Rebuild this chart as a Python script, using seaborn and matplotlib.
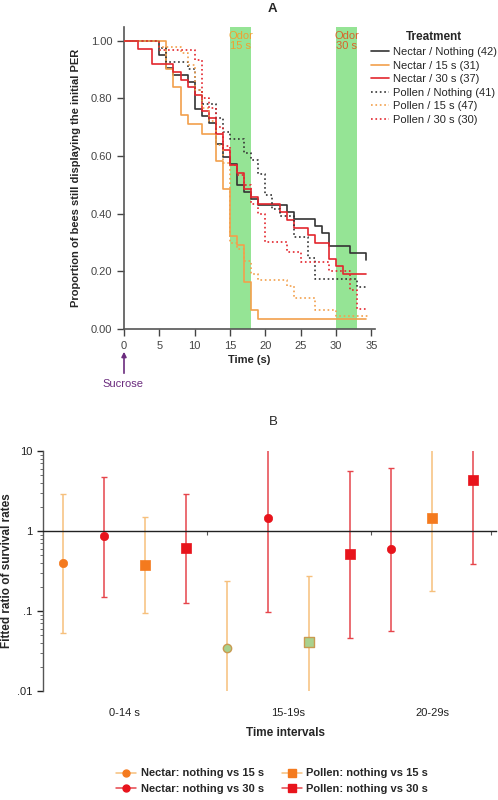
import numpy as np
import pandas as pd
import matplotlib
matplotlib.use('Agg')
import matplotlib.pyplot as plt
from matplotlib.lines import Line2D
from matplotlib.ticker import FixedLocator, FixedFormatter, LogLocator, NullFormatter
import seaborn as sns

# ---- Panel A: proportion of bees still showing the PER over time (step curves)
nectar_nothing_t = [0, 5, 6, 7, 9, 10, 11, 12, 13, 14, 15, 16, 17, 18, 19, 23, 24, 27, 28, 29, 32, 34.2]
nectar_nothing_p = [1.0, 0.952, 0.905, 0.881, 0.857, 0.762, 0.738, 0.714, 0.643, 0.595, 0.571, 0.500,
                    0.476, 0.452, 0.429, 0.405, 0.381, 0.357, 0.333, 0.286, 0.262, 0.238]

nectar_15_t = [0, 6, 7, 8, 9, 11, 13, 14, 15, 16, 17, 18, 19, 34.2]
nectar_15_p = [1.0, 0.903, 0.839, 0.742, 0.710, 0.677, 0.581, 0.484, 0.323, 0.290, 0.161, 0.065, 0.032, 0.032]

nectar_30_t = [0, 2, 4, 7, 8, 9, 10, 11, 12, 13, 14, 15, 16, 17, 18, 19, 22, 23, 24, 26, 27, 29, 30, 31, 34.2]
nectar_30_p = [1.0, 0.973, 0.919, 0.892, 0.865, 0.838, 0.811, 0.757, 0.730, 0.676, 0.622, 0.568, 0.541,
               0.486, 0.459, 0.432, 0.405, 0.378, 0.351, 0.324, 0.297, 0.243, 0.216, 0.189, 0.189]

pollen_nothing_t = [0, 5, 6, 9, 10, 11, 13, 14, 15, 17, 18, 19, 20, 21, 22, 24, 26, 27, 33, 34.3]
pollen_nothing_p = [1.0, 0.976, 0.927, 0.902, 0.829, 0.780, 0.732, 0.683, 0.659, 0.610, 0.585, 0.537,
                    0.463, 0.415, 0.390, 0.317, 0.244, 0.171, 0.146, 0.146]

pollen_15_t = [0, 5, 8, 9, 10, 11, 12, 13, 14, 15, 16, 17, 18, 19, 23, 24, 27, 30, 34.5]
pollen_15_p = [1.0, 0.979, 0.957, 0.915, 0.830, 0.766, 0.723, 0.638, 0.574, 0.298, 0.277, 0.234, 0.191,
               0.170, 0.149, 0.106, 0.064, 0.043, 0.043]

pollen_30_t = [0, 5, 10, 11, 12, 13, 14, 15, 16, 17, 18, 19, 20, 23, 25, 29, 32, 33, 34.3]
pollen_30_p = [1.0, 0.967, 0.933, 0.800, 0.767, 0.700, 0.633, 0.567, 0.533, 0.500, 0.433, 0.400, 0.300,
               0.267, 0.233, 0.200, 0.133, 0.067, 0.067]

treatments = ['Nectar / Nothing (42)', 'Nectar / 15 s (31)', 'Nectar / 30 s (37)',
              'Pollen / Nothing (41)', 'Pollen / 15 s (47)', 'Pollen / 30 s (30)']
curve_t = [nectar_nothing_t, nectar_15_t, nectar_30_t, pollen_nothing_t, pollen_15_t, pollen_30_t]
curve_p = [nectar_nothing_p, nectar_15_p, nectar_30_p, pollen_nothing_p, pollen_15_p, pollen_30_p]

# ---- Panel B: fitted ratio of survival rates with confidence intervals
intervals = ['0-14 s', '15-19s', '20-29s']
comparisons = ['Nectar: nothing vs 15 s', 'Nectar: nothing vs 30 s',
               'Pollen: nothing vs 15 s', 'Pollen: nothing vs 30 s']
ratio_n15 = [0.40, 0.034, np.nan]
ratio_n30 = [0.87, 1.45, 0.60]
ratio_p15 = [0.38, 0.041, 1.45]
ratio_p30 = [0.62, 0.52, 4.4]
low_n15 = [0.053, 0.006, np.nan]
low_n30 = [0.15, 0.097, 0.056]
low_p15 = [0.095, 0.006, 0.18]
low_p30 = [0.126, 0.046, 0.39]
high_n15 = [2.9, 0.24, np.nan]
high_n30 = [4.7, 15.0, 6.1]
high_p15 = [1.5, 0.27, 14.0]
high_p30 = [2.9, 5.6, 15.0]
highlight_n15 = [False, True, False]
highlight_n30 = [False, False, False]
highlight_p15 = [False, True, False]
highlight_p30 = [False, False, False]

sns.set_style('ticks')
plt.rcParams['font.family'] = ['Liberation Sans', 'DejaVu Sans']

fig = plt.figure(figsize=(4.98, 8.0), dpi=100)
W, H = 498.0, 800.0

# ================= Panel A =================
axA = fig.add_axes([124 / W, 1 - 328.7 / H, 251 / W, 301.5 / H])
colorsA = ['#333333', '#F2A04C', '#E3262E', '#333333', '#F2A04C', '#E3262E']
stylesA = ['-', '-', '-', ':', ':', ':']

axA.axvspan(15, 18, color='#95E495', lw=0, zorder=0)
axA.axvspan(30, 33, color='#95E495', lw=0, zorder=0)

for name, t, p, c, ls in zip(treatments, curve_t, curve_p, colorsA, stylesA):
    sns.lineplot(x=t, y=p, ax=axA, color=c, linestyle=ls, lw=1.2, drawstyle='steps-post',
                 estimator=None, sort=False, label=name, zorder=3)

axA.set_xlim(0, 35.5)
axA.set_ylim(0, 1.047)
axA.set_xticks(np.arange(0, 36, 5))
axA.set_yticks(np.arange(0, 1.01, 0.2))
axA.yaxis.set_major_formatter(matplotlib.ticker.FormatStrFormatter('%.2f'))
axA.tick_params(axis='both', labelsize=8, colors='#444444', length=5, width=1, direction='out')
for s in ['top', 'right']:
    axA.spines[s].set_visible(False)
for s in ['left', 'bottom']:
    axA.spines[s].set_color('#555555')
    axA.spines[s].set_linewidth(1.2)
axA.set_xlabel('Time (s)', fontsize=8, fontweight='bold', labelpad=3)
axA.set_ylabel('Proportion of bees still displaying the initial PER', fontsize=8,
               fontweight='bold', labelpad=7)

axA.text(16.5, 1.0, 'Odor\n15 s', ha='center', va='center', fontsize=8, color='#F0A030', linespacing=1.0)
axA.text(31.5, 1.0, 'Odor\n30 s', ha='center', va='center', fontsize=8, color='#D9622A', linespacing=1.0)

handles, labels = axA.get_legend_handles_labels()
axA.legend(handles, labels, title='Treatment', loc='upper left', bbox_to_anchor=(367 / W, 1 - 27 / H),
           bbox_transform=fig.transFigure, frameon=False, fontsize=8, handlelength=1.6,
           handletextpad=0.3, labelspacing=0.32, borderaxespad=0,
           title_fontproperties={'weight': 'bold', 'size': 8.5})

# sucrose arrow under t = 0
axA.annotate('', xy=(0, 1 - 349 / H), xycoords=('data', 'figure fraction'),
             xytext=(0, 1 - 376 / H), textcoords=('data', 'figure fraction'),
             arrowprops=dict(arrowstyle='-|>', color='#6B2C7E', lw=1.2, mutation_scale=7),
             annotation_clip=False)
fig.text(123 / W, 1 - 384 / H, 'Sucrose', ha='center', va='center', fontsize=8, color='#6B2C7E')
fig.text(272 / W, 1 - 9 / H, 'A', ha='center', va='center', fontsize=9.5, fontweight='bold')

# ================= Panel B =================
axB = fig.add_axes([43 / W, 1 - 691 / H, 453 / W, 240 / H])
ratios = [ratio_n15, ratio_n30, ratio_p15, ratio_p30]
lows = [low_n15, low_n30, low_p15, low_p30]
highs = [high_n15, high_n30, high_p15, high_p30]
highlights = [highlight_n15, highlight_n30, highlight_p15, highlight_p30]
markers = ['o', 'o', 's', 's']
mcolors = ['#F47A1E', '#E8141C', '#F47A1E', '#E8141C']
ecolors = ['#F6C07C', '#E6454B', '#F6C07C', '#E6454B']
msizes = [36, 36, 46, 46]

rows = []
pos = 0
for i, interval in enumerate(intervals):
    for j, comp in enumerate(comparisons):
        if np.isnan(ratios[j][i]):
            continue
        rows.append(dict(pos=pos, interval=interval, comparison=comp, ratio=ratios[j][i],
                         low=lows[j][i], high=highs[j][i], highlight=highlights[j][i], k=j))
        pos += 1
dfB = pd.DataFrame(rows)

for j, comp in enumerate(comparisons):
    sub = dfB[dfB['comparison'] == comp]
    axB.errorbar(sub['pos'], sub['ratio'],
                 yerr=[sub['ratio'] - sub['low'], sub['high'] - sub['ratio']],
                 fmt='none', ecolor=ecolors[j], elinewidth=1.1, capsize=2.5, capthick=1.0, zorder=2)
    normal = sub[~sub['highlight']]
    sns.scatterplot(x=normal['pos'], y=normal['ratio'], ax=axB, marker=markers[j], color=mcolors[j],
                    s=msizes[j], edgecolor=mcolors[j], linewidth=0.5, zorder=4, legend=False)
    hl = sub[sub['highlight']]
    if len(hl):
        sns.scatterplot(x=hl['pos'], y=hl['ratio'], ax=axB, marker=markers[j], color='#A9D18E',
                        s=msizes[j], edgecolor='#C99A50', linewidth=1.0, zorder=4, legend=False)

axB.set_yscale('log')
axB.set_ylim(0.01, 10)
axB.set_xlim(-0.49, 10.56)
axB.yaxis.set_major_locator(FixedLocator([0.01, 0.1, 1, 10]))
axB.yaxis.set_major_formatter(FixedFormatter(['.01', '.1', '1', '10']))
axB.yaxis.set_minor_locator(LogLocator(base=10, subs=np.arange(2, 10)))
axB.yaxis.set_minor_formatter(NullFormatter())
axB.tick_params(axis='y', which='major', labelsize=8, colors='#222222', length=4, width=1)
axB.tick_params(axis='y', which='minor', length=2, width=0.6, colors='#555555')

# x axis line drawn at ratio = 1, with small ticks between the intervals
axB.spines['bottom'].set_position(('data', 1))
axB.spines['bottom'].set_color('#222222')
axB.spines['bottom'].set_linewidth(1.0)
axB.spines['left'].set_color('#555555')
axB.spines['left'].set_linewidth(1.0)
for s in ['top', 'right']:
    axB.spines[s].set_visible(False)
axB.set_xticks([3.5, 7.5, 10.45])
axB.set_xticklabels([])
axB.tick_params(axis='x', length=3, width=0.8, colors='#555555')
axB.set_xlabel('')
axB.set_ylabel('Fitted ratio of survival rates', fontsize=8.5, fontweight='bold', labelpad=3)

group_centres = dfB.groupby('interval', sort=False)['pos'].mean()
for interval in intervals:
    axB.text(group_centres[interval], -0.09, interval, transform=axB.get_xaxis_transform(),
             ha='center', va='center', fontsize=8, color='#222222')
axB.text(0.535, -0.175, 'Time intervals', transform=axB.transAxes, ha='center', va='center',
         fontsize=8.5, fontweight='bold')
fig.text(273 / W, 1 - 422 / H, 'B', ha='center', va='center', fontsize=9.5)

legB = [Line2D([0], [0], color=ecolors[j], marker=markers[j], markerfacecolor=mcolors[j],
               markeredgecolor=mcolors[j], markersize=5 if markers[j] == 'o' else 5.5, lw=1.1)
        for j in range(4)]
fig.legend(legB, comparisons, loc='center', bbox_to_anchor=(272 / W, 1 - 781 / H), ncol=2,
           frameon=False, prop={'size': 8, 'weight': 'bold'}, handlelength=1.8,
           handletextpad=0.4, columnspacing=1.6, labelspacing=0.45)

fig.savefig('out.png', dpi=100)
plt.close(fig)
